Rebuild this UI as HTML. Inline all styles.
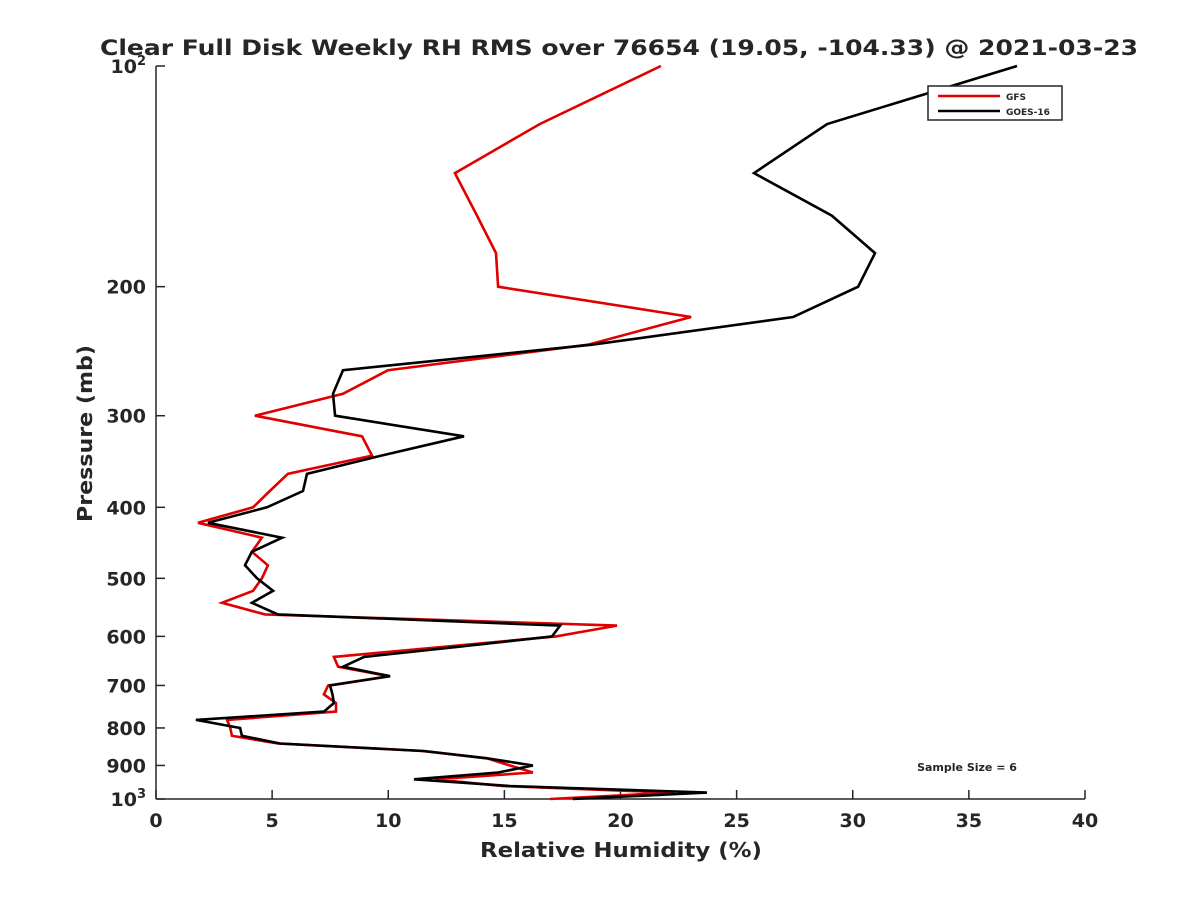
<!DOCTYPE html>
<html><head><meta charset="utf-8"><style>
body{margin:0;background:#fff;font-family:"DejaVu Sans",sans-serif}
svg text{font-family:"DejaVu Sans","Liberation Sans",sans-serif;font-weight:bold;fill:#262626}
</style></head><body>
<svg id="chart" width="1200" height="900" xmlns="http://www.w3.org/2000/svg">
<rect width="1200" height="900" fill="#fff"/>
<text x="100" y="55" textLength="1038" lengthAdjust="spacingAndGlyphs" font-size="21" fill="#000">Clear Full Disk Weekly RH RMS over 76654 (19.05, -104.33) @ 2021-03-23</text>
<g id="axes"></g>
<g id="series"></g>
<text x="480" y="857" textLength="282" lengthAdjust="spacingAndGlyphs" font-size="20">Relative Humidity (%)</text>
<text transform="translate(92,522) rotate(-90)" textLength="177" lengthAdjust="spacingAndGlyphs" font-size="20">Pressure (mb)</text>
<g>
<rect x="928" y="86" width="134" height="34" fill="#fff" stroke="#262626" stroke-width="1.5"/>
<line x1="938" y1="96" x2="1000" y2="96" stroke="#e00000" stroke-width="2.5"/>
<text x="1006" y="100" font-size="9">GFS</text>
<line x1="938" y1="111" x2="1000" y2="111" stroke="#000" stroke-width="2.5"/>
<text x="1006" y="115" font-size="9">GOES-16</text>
</g>
<text x="967" y="771" text-anchor="middle" font-size="11" fill="#000">Sample Size = 6</text>
</svg>
<script>
const pressures=[100,120,140,160,180,200,220,240,260,280,300,320,340,360,380,400,420,440,460,480,500,520,540,560,580,600,620,640,660,680,700,720,740,760,780,800,820,840,860,880,900,920,940,960,980,1000];
const goesValues=[37.07,28.9,25.75,29.1,30.96,30.23,27.43,18.77,8.05,7.62,7.71,13.26,9.7,6.5,6.33,4.78,2.24,5.43,4.13,3.83,4.35,5.04,4.13,5.25,17.4,17.05,13.0,8.96,8.05,10.08,7.49,7.6,7.66,7.23,1.72,3.62,3.7,5.34,11.54,14.25,16.23,14.73,11.11,15.24,23.72,17.95];
const gfsValues=[21.74,16.53,12.87,13.82,14.64,14.73,23.04,18.6,9.99,8.05,4.26,8.87,9.3,5.68,4.9,4.18,1.81,4.56,4.13,4.82,4.56,4.18,2.84,4.69,19.85,17.22,12.4,7.66,7.84,10.03,7.41,7.23,7.75,7.75,3.06,3.2,3.27,5.25,11.45,14.25,15.24,16.23,12.01,14.9,22.3,16.96];
const xTicks=[0,5,10,15,20,25,30,35,40];
const yTicks=[100,200,300,400,500,600,700,800,900,1000];
const yTickLabels=["10","200","300","400","500","600","700","800","900","10"];
const yTickExps=["2","","","","","","","","","3"];
const L=156,R=1085,T=66,B=799;
const NS="http://www.w3.org/2000/svg";
function xs(v){return L+(v-0)/(40-0)*(R-L);}
function ys(p){return T+(Math.log10(p)-2)/(3-2)*(B-T);}
function mk(tag,attrs,parent){const e=document.createElementNS(NS,tag);for(const k in attrs)e.setAttribute(k,attrs[k]);parent.appendChild(e);return e;}
const ax=document.getElementById('axes');
let a=mk('line',{x1:L,y1:T,x2:L,y2:B,stroke:'#262626','stroke-width':1.5},ax);


a=mk('line',{x1:L,y1:B,x2:R,y2:B,stroke:'#262626','stroke-width':1.5},ax);


xTicks.forEach(v=>{const x=xs(v);
 mk('line',{x1:x,y1:B,x2:x,y2:B-9,stroke:'#262626','stroke-width':1.5},ax);
 const t=mk('text',{x:x,y:B+28,'text-anchor':'middle','font-size':19},ax);t.textContent=v;
 
 
});
yTicks.forEach((p,i)=>{const y=ys(p);
 mk('line',{x1:L,y1:y,x2:L+9,y2:y,stroke:'#262626','stroke-width':1.5},ax);
 const t=mk('text',{x:L-10,y:y+7,'text-anchor':'end','font-size':19},ax);
 
 
 const base=mk('tspan',{},t);base.textContent=yTickLabels[i];
 if(yTickExps[i]){const s=mk('tspan',{dy:-8,'font-size':13},t);s.textContent=yTickExps[i];}
});
const sg=document.getElementById('series');
function line(vals,color,name){
 const pts=vals.map((v,i)=>xs(v).toFixed(1)+','+ys(pressures[i]).toFixed(1)).join(' ');
 const e=mk('polyline',{points:pts,fill:'none',stroke:color,'stroke-width':2.6,'stroke-linejoin':'miter'},sg);
 
 
}
line(gfsValues,'#e00000','gfs-line');
line(goesValues,'#000000','goes16-line');
</script>
</body></html>
